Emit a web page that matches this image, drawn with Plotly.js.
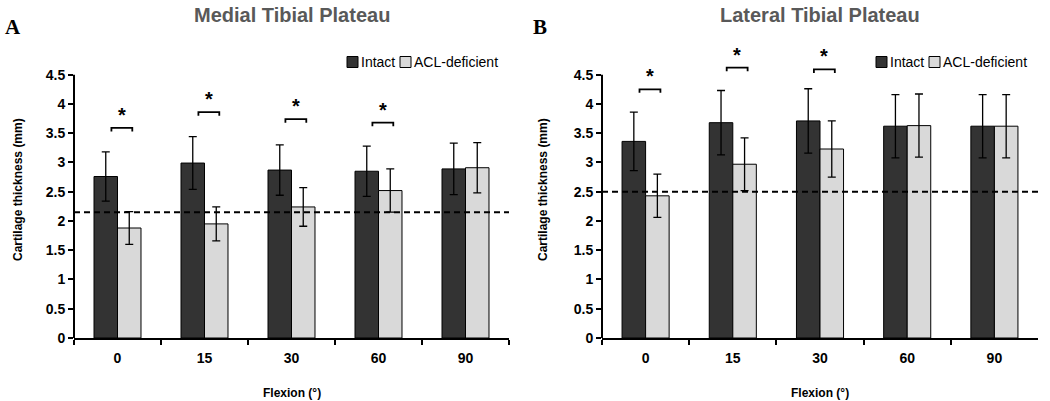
<!DOCTYPE html>
<html>
<head>
<meta charset="utf-8">
<script src="https://cdn.plot.ly/plotly-3.0.1.min.js"></script>
<style>html,body{margin:0;padding:0;background:#fff;}#chart{width:1050px;height:401px;}</style>
</head>
<body>
<div id="chart"></div>
<script>
// ---- data ----
const categories = ['0', '15', '30', '60', '90'];
const seriesNames = ['Intact', 'ACL-deficient'];

const medialIntact = [2.76, 2.99, 2.87, 2.85, 2.89];
const medialIntactErr = [0.42, 0.45, 0.43, 0.43, 0.44];
const medialACL = [1.88, 1.95, 2.24, 2.52, 2.91];
const medialACLErr = [0.28, 0.29, 0.33, 0.37, 0.43];
const medialSig = [3.59, 3.86, 3.74, 3.68, null];
const medialBaseline = 2.15;

const lateralIntact = [3.36, 3.68, 3.71, 3.62, 3.62];
const lateralIntactErr = [0.50, 0.55, 0.55, 0.54, 0.54];
const lateralACL = [2.43, 2.97, 3.23, 3.63, 3.62];
const lateralACLErr = [0.37, 0.45, 0.48, 0.54, 0.54];
const lateralSig = [4.25, 4.62, 4.59, null, null];
const lateralBaseline = 2.50;

const yTickVals = [0, 0.5, 1, 1.5, 2, 2.5, 3, 3.5, 4, 4.5];
const yTickText = ['0', '0.5', '1', '1.5', '2', '2.5', '3', '3.5', '4', '4.5'];

const panelTitles = ['Medial Tibial Plateau', 'Lateral Tibial Plateau'];
const panelLetters = ['A', 'B'];
const yTitle = 'Cartilage thickness (mm)';
const xTitle = 'Flexion (°)';

// ---- styles ----
const FONT = 'Liberation Sans, Arial, sans-serif';
const SERIF = 'Liberation Serif, Times New Roman, serif';
const DARK = '#333333';
const LIGHT = '#d9d9d9';
const W = 1050, PLOT_TOP = 63, PLOT_BOTTOM = 338;
const domL = [74 / W, 509 / W];
const domR = [602 / W, 1038 / W];
const colors = [DARK, LIGHT];

function px2paperY(py) { return (PLOT_BOTTOM - py) / (PLOT_BOTTOM - PLOT_TOP); }

function barTrace(name, y, err, color, xa, ya) {
  return {
    type: 'bar', name: name, x: categories, y: y, xaxis: xa, yaxis: ya,
    showlegend: false,
    marker: {color: color, line: {color: '#000', width: 1}},
    error_y: {type: 'data', array: err, visible: true, color: '#000', thickness: 1.3, width: 4}
  };
}

const data = [
  barTrace(seriesNames[0], medialIntact, medialIntactErr, DARK, 'x', 'y'),
  barTrace(seriesNames[1], medialACL, medialACLErr, LIGHT, 'x', 'y'),
  barTrace(seriesNames[0], lateralIntact, lateralIntactErr, DARK, 'x2', 'y2'),
  barTrace(seriesNames[1], lateralACL, lateralACLErr, LIGHT, 'x2', 'y2')
];

const shapes = [];
const annotations = [];

function addPanelMarks(sig, baseline, xa, ya) {
  // dashed baseline
  shapes.push({type: 'line', xref: xa + ' domain', yref: ya, x0: 0, x1: 1, y0: baseline, y1: baseline,
    line: {color: '#000', width: 2, dash: '6px,4px'}});
  sig.forEach((v, i) => {
    if (v === null) return;
    const a = i - 0.07, b = i + 0.17, drop = 0.06;
    shapes.push({type: 'path', xref: xa, yref: ya,
      path: `M ${a},${v - drop} L ${a},${v} L ${b},${v} L ${b},${v - drop}`,
      line: {color: '#000', width: 1.8}});
    annotations.push({xref: xa, yref: ya, x: (a + b) / 2, y: v, xanchor: 'center', yanchor: 'middle', yshift: 13,
      text: '<b>*</b>', showarrow: false, font: {family: FONT, size: 20, color: '#000'}});
  });
}
addPanelMarks(medialSig, medialBaseline, 'x', 'y');
addPanelMarks(lateralSig, lateralBaseline, 'x2', 'y2');

// custom legends (square swatch + label), one per panel
function addLegend(xStart) {
  const yc = px2paperY(62), half = 5.5 / (PLOT_BOTTOM - PLOT_TOP);
  const offsets = [0, 53];
  seriesNames.forEach((nm, k) => {
    const x0 = xStart + offsets[k];
    shapes.push({type: 'rect', xref: 'paper', yref: 'paper', x0: x0 / W, x1: (x0 + 11) / W,
      y0: yc - half, y1: yc + half, fillcolor: colors[k], line: {color: '#000', width: 1}});
    annotations.push({xref: 'paper', yref: 'paper', x: (x0 + 12) / W, xanchor: 'left', y: yc, yanchor: 'middle',
      text: nm, showarrow: false, font: {family: FONT, size: 14, color: '#000'}});
  });
}
addLegend(347);
addLegend(876);

[domL, domR].forEach((d, k) => {
  const cx = (d[0] + d[1]) / 2;
  annotations.push({xref: 'paper', yref: 'paper', x: cx, xanchor: 'center', y: 1.0, yanchor: 'middle', yshift: 48,
    text: '<b>' + panelTitles[k] + '</b>', showarrow: false,
    font: {family: FONT, size: 20, color: '#595959'}});
  annotations.push({xref: 'paper', yref: 'paper', x: cx, xanchor: 'center', y: 0, yanchor: 'middle', yshift: -55,
    text: '<b>' + xTitle + '</b>', showarrow: false,
    font: {family: FONT, size: 12, color: '#000'}});
});
annotations.push({xref: 'paper', yref: 'paper', x: 18 / W, xanchor: 'center', y: 0, yanchor: 'middle', yshift: 148,
  text: '<b>' + yTitle + '</b>', textangle: -90, showarrow: false,
  font: {family: FONT, size: 12, color: '#000'}});
annotations.push({xref: 'paper', yref: 'paper', x: 543 / W, xanchor: 'center', y: 0, yanchor: 'middle', yshift: 148,
  text: '<b>' + yTitle + '</b>', textangle: -90, showarrow: false,
  font: {family: FONT, size: 12, color: '#000'}});
annotations.push({xref: 'paper', yref: 'paper', x: 3 / W, xanchor: 'left', y: 1, yanchor: 'middle', yshift: 36,
  text: '<b>' + panelLetters[0] + '</b>', showarrow: false,
  font: {family: SERIF, size: 21, color: '#000'}});
annotations.push({xref: 'paper', yref: 'paper', x: 531 / W, xanchor: 'left', y: 1, yanchor: 'middle', yshift: 36,
  text: '<b>' + panelLetters[1] + '</b>', showarrow: false,
  font: {family: SERIF, size: 21, color: '#000'}});

function xAxis(dom, anchor) {
  return {domain: dom, anchor: anchor, type: 'category', showline: true, linecolor: '#000', linewidth: 2,
    ticks: 'outside', tickson: 'boundaries', ticklen: 5, tickwidth: 2, tickcolor: '#000',
    ticklabelstandoff: 6, showgrid: false, zeroline: false, fixedrange: true,
    tickfont: {family: FONT, size: 14, color: '#000', weight: 'bold'}};
}
function yAxis(anchor) {
  return {domain: [0, 1], anchor: anchor, range: [0, 4.7], showline: false, ticks: 'outside', ticklen: 5,
    tickwidth: 2, tickcolor: '#000', tickvals: yTickVals, ticktext: yTickText, showgrid: false,
    zeroline: false, fixedrange: true,
    tickfont: {family: FONT, size: 14, color: '#000', weight: 'bold'}};
}
// y axis lines drawn only up to 4.5
shapes.push({type: 'line', xref: 'x domain', yref: 'y', x0: 0, x1: 0, y0: 0, y1: 4.5, line: {color: '#000', width: 2}});
shapes.push({type: 'line', xref: 'x2 domain', yref: 'y2', x0: 0, x1: 0, y0: 0, y1: 4.5, line: {color: '#000', width: 2}});

const layout = {
  width: 1050, height: 401,
  margin: {l: 0, r: 0, t: PLOT_TOP, b: 401 - PLOT_BOTTOM},
  paper_bgcolor: '#fff', plot_bgcolor: '#fff',
  barmode: 'group', bargap: 0.46, bargroupgap: 0,
  xaxis: xAxis(domL, 'y'), yaxis: yAxis('x'),
  xaxis2: xAxis(domR, 'y2'), yaxis2: yAxis('x2'),
  shapes: shapes, annotations: annotations,
  showlegend: false
};

Plotly.newPlot('chart', data, layout, {displayModeBar: false, staticPlot: true});
</script>
</body>
</html>
